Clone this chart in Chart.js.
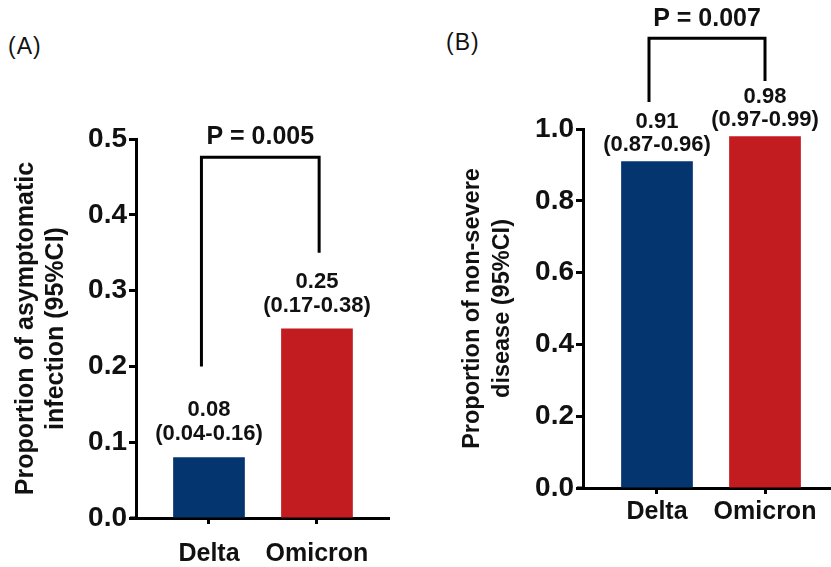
<!DOCTYPE html>
<html>
<head>
<meta charset="utf-8">
<script src="https://cdn.jsdelivr.net/npm/chart.js@4.4.1/dist/chart.umd.min.js"></script>
<style>
  html, body { margin: 0; padding: 0; background: #fff; }
  body { width: 831px; height: 567px; position: relative; overflow: hidden; }
  .wrap { position: absolute; top: 0; height: 567px; }
  #wa { left: 0; width: 415px; }
  #wb { left: 415px; width: 416px; }
  .panel { position: absolute; font-family: "Liberation Sans", Arial, sans-serif; font-size: 23px; letter-spacing: 1px; color: #111; line-height: 1; }
</style>
</head>
<body>
<div class="panel" style="left:8px; top:35px;">(A)</div>
<div class="panel" style="left:446px; top:31px;">(B)</div>
<div class="wrap" id="wa"><canvas id="ca" width="415" height="567"></canvas></div>
<div class="wrap" id="wb"><canvas id="cb" width="416" height="567"></canvas></div>
<script>
// ---- data ----
const categories = ['Delta', 'Omicron'];
const asymValues = [0.08, 0.25];
const asymLow = [0.04, 0.17];
const asymHigh = [0.16, 0.38];
const asymP = 'P = 0.005';
const asymTicks = [0, 0.1, 0.2, 0.3, 0.4, 0.5];

const nonSevereValues = [0.91, 0.98];
const nonSevereLow = [0.87, 0.97];
const nonSevereHigh = [0.96, 0.99];
const nonSevereP = 'P = 0.007';
const nonSevereTicks = [0, 0.2, 0.4, 0.6, 0.8, 1.0];

const barColors = ['#05356F', '#C21B20'];
const FONT = '"Liberation Sans", Arial, sans-serif';

const annotPlugin = {
  id: 'annot',
  afterDraw(chart, args, opts) {
    const ctx = chart.ctx;
    const xs = chart.scales.x, ys = chart.scales.y;
    const meta = chart.getDatasetMeta(0);
    ctx.save();
    // x-axis small extension to the left of the y axis
    ctx.strokeStyle = '#000';
    ctx.lineWidth = 3;
    ctx.beginPath();
    ctx.moveTo(chart.chartArea.left - 6, chart.chartArea.bottom);
    ctx.lineTo(chart.chartArea.left, chart.chartArea.bottom);
    ctx.stroke();
    // value labels
    ctx.fillStyle = '#111';
    ctx.font = 'bold 22px ' + FONT;
    ctx.textAlign = 'center';
    ctx.textBaseline = 'middle';
    meta.data.forEach((bar, i) => {
      const v = opts.values[i], lo = opts.low[i], hi = opts.high[i];
      ctx.fillText(v.toFixed(2), bar.x, bar.y - opts.off1);
      ctx.fillText('(' + lo.toFixed(2) + '-' + hi.toFixed(2) + ')', bar.x, bar.y - opts.off2);
    });
    // significance bracket
    const b = opts.bracket;
    const x1 = xs.getPixelForValue(b.x1), x2 = xs.getPixelForValue(b.x2);
    const yl = ys.getPixelForValue(b.yLeft), yr = ys.getPixelForValue(b.yRight), yt = ys.getPixelForValue(b.yTop);
    ctx.lineWidth = 3;
    ctx.lineJoin = 'miter';
    ctx.beginPath();
    ctx.moveTo(x1, yl);
    ctx.lineTo(x1, yt);
    ctx.lineTo(x2, yt);
    ctx.lineTo(x2, yr);
    ctx.stroke();
    ctx.font = 'bold 25px ' + FONT;
    ctx.fillText(opts.pText, (x1 + x2) / 2, ys.getPixelForValue(b.yText));
    ctx.restore();
  }
};

function makeChart(id, cfg) {
  const data = categories.map((c, i) => ({ x: i, y: cfg.values[i] }));
  return new Chart(document.getElementById(id), {
    type: 'bar',
    data: {
      datasets: [{
        data: data,
        backgroundColor: barColors,
        borderWidth: 0,
        barPercentage: 0.8,
        categoryPercentage: 0.83
      }]
    },
    options: {
      responsive: false,
      animation: false,
      events: [],
      layout: { padding: cfg.padding },
      plugins: {
        legend: { display: false },
        tooltip: { enabled: false },
        annot: {
          values: cfg.values, low: cfg.low, high: cfg.high, pText: cfg.pText,
          bracket: cfg.bracket, off1: cfg.off1, off2: cfg.off2
        }
      },
      scales: {
        x: {
          type: 'linear',
          offset: false,
          bounds: 'data',
          min: cfg.xMin, max: cfg.xMax,
          afterBuildTicks: (s) => { s.ticks = categories.map((c, i) => ({ value: i })); },
          afterFit: (s) => { s.height = cfg.xHeight; },
          ticks: {
            autoSkip: false,
            maxRotation: 0,
            padding: cfg.xPad,
            color: '#111',
            font: { family: FONT, size: 25, weight: 'bold' },
            callback: (v) => categories[v]
          },
          grid: { offset: false, drawOnChartArea: false, drawTicks: true, tickLength: 6, tickWidth: 3, tickColor: '#000' },
          border: { display: true, color: '#000', width: 3 }
        },
        y: {
          min: 0, max: cfg.ticks[cfg.ticks.length - 1],
          afterBuildTicks: (s) => { s.ticks = cfg.ticks.map(v => ({ value: v })); },
          afterFit: (s) => { s.width = cfg.yWidth; },
          ticks: {
            padding: 2,
            color: '#111',
            font: { family: FONT, size: 28, weight: 'bold' },
            callback: (v) => Number(v).toFixed(1)
          },
          grid: { drawOnChartArea: false, drawTicks: true, tickLength: 7, tickWidth: 3, tickColor: '#000' },
          border: { display: true, color: '#000', width: 3 },
          title: {
            display: true,
            text: cfg.yTitle,
            color: '#111',
            font: { family: FONT, size: cfg.titleSize, weight: 'bold', lineHeight: cfg.titleLH },
            padding: { top: cfg.titleTop, bottom: 0 }
          }
        }
      }
    },
    plugins: [annotPlugin]
  });
}

makeChart('ca', {
  values: asymValues, low: asymLow, high: asymHigh, pText: asymP, ticks: asymTicks,
  yTitle: ['Proportion of asymptomatic', 'infection (95%CI)'],
  padding: { top: 139, right: 26, bottom: 0, left: 0 },
  yWidth: 136, xHeight: 49, xPad: 15, titleTop: 11, titleSize: 25, titleLH: 1.2,
  xMin: -0.676, xMax: 1.667,
  off1: 47, off2: 23,
  bracket: { x1: -0.07, x2: 1.02, yLeft: 0.2, yRight: 0.35, yTop: 0.476, yText: 0.503 }
});

makeChart('cb', {
  values: nonSevereValues, low: nonSevereLow, high: nonSevereHigh, pText: nonSevereP, ticks: nonSevereTicks,
  yTitle: ['Proportion of non-severe', 'disease (95%CI)'],
  padding: { top: 129, right: 0, bottom: 0, left: 0 },
  yWidth: 168, xHeight: 79, xPad: 3, titleTop: 42, titleSize: 23.5, titleLH: 1.3,
  xMin: -0.685, xMax: 1.611,
  off1: 39, off2: 16,
  bracket: { x1: -0.074, x2: 1.0, yLeft: 1.075, yRight: 1.134, yTop: 1.253, yText: 1.305 }
});
</script>
</body>
</html>
